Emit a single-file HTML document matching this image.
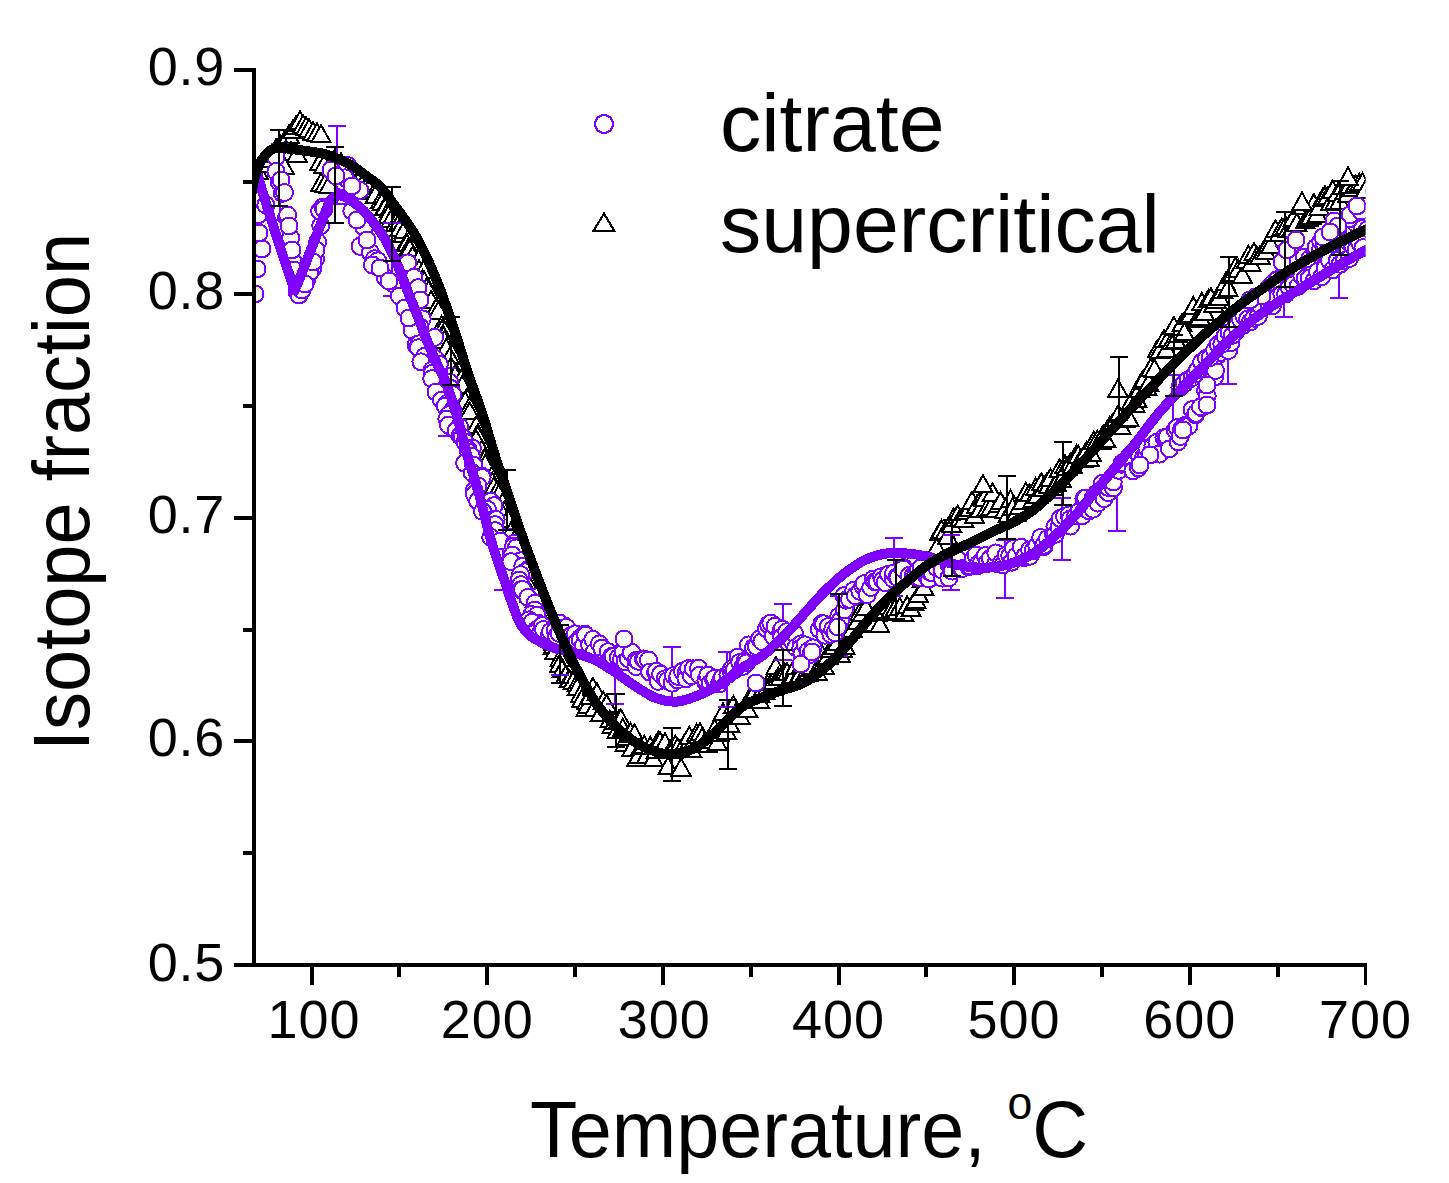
<!DOCTYPE html>
<html><head><meta charset="utf-8"><title>chart</title>
<style>
html,body{margin:0;padding:0;background:#fff;}
body{width:1449px;height:1183px;position:relative;overflow:hidden;font-family:"Liberation Sans",sans-serif;color:#000;}
.t{position:absolute;white-space:nowrap;line-height:1;}
.yl{font-size:54px;width:100px;text-align:right;left:125px;letter-spacing:0.7px;}
.xl{font-size:54px;width:140px;text-align:center;top:992px;letter-spacing:1px;}
</style></head><body>
<svg width="1449" height="1183" viewBox="0 0 1449 1183" style="position:absolute;left:0;top:0">
<defs><clipPath id="cp"><rect x="254" y="60" width="1111.6" height="905"/></clipPath></defs>
<g clip-path="url(#cp)" shape-rendering="crispEdges">
<g stroke="#000" stroke-width="2" fill="#fff" stroke-linejoin="miter"><path d="M258.0,161.5l9.5,17h-19z"/><path d="M262.0,154.5l9.5,17h-19z"/><path d="M268.0,149.5l9.5,17h-19z"/><path d="M272.0,144.5l9.5,17h-19z"/><path d="M276.0,139.5l9.5,17h-19z"/><path d="M280.0,135.5l9.5,17h-19z"/><path d="M285.0,130.5l9.5,17h-19z"/><path d="M289.0,125.5l9.5,17h-19z"/><path d="M293.0,120.5l9.5,17h-19z"/><path d="M296.0,116.5l9.5,17h-19z"/><path d="M299.0,113.5l9.5,17h-19z"/><path d="M300.0,111.5l9.5,17h-19z"/><path d="M303.0,115.5l9.5,17h-19z"/><path d="M306.0,117.5l9.5,17h-19z"/><path d="M309.0,119.5l9.5,17h-19z"/><path d="M313.0,122.5l9.5,17h-19z"/><path d="M317.0,123.5l9.5,17h-19z"/><path d="M321.0,125.0l9.5,17h-19z"/><path d="M286.0,140.5l9.5,17h-19z"/><path d="M291.0,142.5l9.5,17h-19z"/><path d="M297.0,144.5l9.5,17h-19z"/><path d="M284.0,156.5l9.5,17h-19z"/><path d="M320.0,152.5l9.5,17h-19z"/><path d="M324.0,155.5l9.5,17h-19z"/><path d="M321.0,173.5l9.5,17h-19z"/><path d="M325.0,174.5l9.5,17h-19z"/><path d="M329.0,176.0l9.5,17h-19z"/><path d="M335.0,149.5l9.5,17h-19z"/><path d="M341.0,153.5l9.5,17h-19z"/><path d="M348.0,158.5l9.5,17h-19z"/><path d="M355.0,163.5l9.5,17h-19z"/><path d="M354.9,164.0l9.5,17h-19z"/><path d="M355.8,168.9l9.5,17h-19z"/><path d="M357.6,170.1l9.5,17h-19z"/><path d="M361.1,167.6l9.5,17h-19z"/><path d="M362.4,174.7l9.5,17h-19z"/><path d="M362.6,174.2l9.5,17h-19z"/><path d="M367.7,174.5l9.5,17h-19z"/><path d="M367.4,181.7l9.5,17h-19z"/><path d="M369.7,178.0l9.5,17h-19z"/><path d="M375.5,180.8l9.5,17h-19z"/><path d="M376.7,185.2l9.5,17h-19z"/><path d="M375.4,185.5l9.5,17h-19z"/><path d="M380.7,190.5l9.5,17h-19z"/><path d="M381.9,193.0l9.5,17h-19z"/><path d="M384.9,197.3l9.5,17h-19z"/><path d="M385.2,198.3l9.5,17h-19z"/><path d="M388.9,200.4l9.5,17h-19z"/><path d="M388.2,205.8l9.5,17h-19z"/><path d="M391.0,210.0l9.5,17h-19z"/><path d="M395.4,214.1l9.5,17h-19z"/><path d="M398.8,213.7l9.5,17h-19z"/><path d="M399.6,219.4l9.5,17h-19z"/><path d="M403.1,225.3l9.5,17h-19z"/><path d="M404.1,221.2l9.5,17h-19z"/><path d="M406.4,233.3l9.5,17h-19z"/><path d="M407.0,234.1l9.5,17h-19z"/><path d="M407.8,239.8l9.5,17h-19z"/><path d="M409.9,239.8l9.5,17h-19z"/><path d="M412.5,246.8l9.5,17h-19z"/><path d="M418.9,249.5l9.5,17h-19z"/><path d="M418.9,260.1l9.5,17h-19z"/><path d="M423.5,261.0l9.5,17h-19z"/><path d="M422.4,270.0l9.5,17h-19z"/><path d="M424.1,271.6l9.5,17h-19z"/><path d="M426.2,278.6l9.5,17h-19z"/><path d="M428.6,281.1l9.5,17h-19z"/><path d="M431.2,291.1l9.5,17h-19z"/><path d="M436.1,298.9l9.5,17h-19z"/><path d="M438.3,301.6l9.5,17h-19z"/><path d="M441.7,316.1l9.5,17h-19z"/><path d="M442.1,319.9l9.5,17h-19z"/><path d="M444.9,321.7l9.5,17h-19z"/><path d="M443.7,326.7l9.5,17h-19z"/><path d="M444.5,331.1l9.5,17h-19z"/><path d="M446.3,338.7l9.5,17h-19z"/><path d="M452.2,344.7l9.5,17h-19z"/><path d="M449.9,347.3l9.5,17h-19z"/><path d="M451.0,357.2l9.5,17h-19z"/><path d="M456.1,363.5l9.5,17h-19z"/><path d="M455.2,366.2l9.5,17h-19z"/><path d="M461.3,369.4l9.5,17h-19z"/><path d="M463.2,375.9l9.5,17h-19z"/><path d="M462.2,376.0l9.5,17h-19z"/><path d="M467.0,388.7l9.5,17h-19z"/><path d="M465.2,391.7l9.5,17h-19z"/><path d="M469.7,397.2l9.5,17h-19z"/><path d="M469.7,402.4l9.5,17h-19z"/><path d="M476.3,416.2l9.5,17h-19z"/><path d="M477.9,424.1l9.5,17h-19z"/><path d="M477.7,426.4l9.5,17h-19z"/><path d="M476.0,429.9l9.5,17h-19z"/><path d="M481.7,440.8l9.5,17h-19z"/><path d="M485.2,447.7l9.5,17h-19z"/><path d="M484.6,450.2l9.5,17h-19z"/><path d="M485.2,454.8l9.5,17h-19z"/><path d="M491.8,466.8l9.5,17h-19z"/><path d="M492.4,472.6l9.5,17h-19z"/><path d="M493.8,477.5l9.5,17h-19z"/><path d="M496.9,481.7l9.5,17h-19z"/><path d="M498.7,485.1l9.5,17h-19z"/><path d="M502.4,493.4l9.5,17h-19z"/><path d="M504.2,501.7l9.5,17h-19z"/><path d="M500.8,501.6l9.5,17h-19z"/><path d="M507.7,509.9l9.5,17h-19z"/><path d="M511.4,521.9l9.5,17h-19z"/><path d="M510.6,523.1l9.5,17h-19z"/><path d="M514.4,530.8l9.5,17h-19z"/><path d="M516.3,534.8l9.5,17h-19z"/><path d="M518.5,540.4l9.5,17h-19z"/><path d="M516.9,545.1l9.5,17h-19z"/><path d="M519.0,552.6l9.5,17h-19z"/><path d="M524.3,555.9l9.5,17h-19z"/><path d="M524.4,565.7l9.5,17h-19z"/><path d="M528.3,567.8l9.5,17h-19z"/><path d="M528.1,569.5l9.5,17h-19z"/><path d="M528.1,574.3l9.5,17h-19z"/><path d="M530.6,584.7l9.5,17h-19z"/><path d="M535.5,589.8l9.5,17h-19z"/><path d="M537.6,598.7l9.5,17h-19z"/><path d="M539.0,597.9l9.5,17h-19z"/><path d="M542.0,604.2l9.5,17h-19z"/><path d="M544.1,613.0l9.5,17h-19z"/><path d="M545.2,614.5l9.5,17h-19z"/><path d="M547.8,618.8l9.5,17h-19z"/><path d="M548.7,627.5l9.5,17h-19z"/><path d="M553.5,633.0l9.5,17h-19z"/><path d="M553.3,636.7l9.5,17h-19z"/><path d="M553.5,636.1l9.5,17h-19z"/><path d="M555.1,641.5l9.5,17h-19z"/><path d="M560.0,648.8l9.5,17h-19z"/><path d="M559.7,654.6l9.5,17h-19z"/><path d="M562.1,660.3l9.5,17h-19z"/><path d="M565.5,666.2l9.5,17h-19z"/><path d="M569.0,669.9l9.5,17h-19z"/><path d="M569.7,670.3l9.5,17h-19z"/><path d="M572.9,672.2l9.5,17h-19z"/><path d="M577.0,674.0l9.5,17h-19z"/><path d="M577.5,677.9l9.5,17h-19z"/><path d="M580.4,685.1l9.5,17h-19z"/><path d="M583.9,689.7l9.5,17h-19z"/><path d="M581.5,690.2l9.5,17h-19z"/><path d="M586.9,691.8l9.5,17h-19z"/><path d="M586.2,698.6l9.5,17h-19z"/><path d="M587.8,695.8l9.5,17h-19z"/><path d="M590.0,687.2l9.5,17h-19z"/><path d="M592.9,677.9l9.5,17h-19z"/><path d="M594.5,698.8l9.5,17h-19z"/><path d="M596.9,683.4l9.5,17h-19z"/><path d="M600.2,704.3l9.5,17h-19z"/><path d="M603.3,691.6l9.5,17h-19z"/><path d="M606.6,694.9l9.5,17h-19z"/><path d="M609.8,710.4l9.5,17h-19z"/><path d="M612.0,716.0l9.5,17h-19z"/><path d="M615.3,711.5l9.5,17h-19z"/><path d="M617.1,720.8l9.5,17h-19z"/><path d="M619.1,709.9l9.5,17h-19z"/><path d="M620.9,709.5l9.5,17h-19z"/><path d="M622.8,718.9l9.5,17h-19z"/><path d="M624.9,734.0l9.5,17h-19z"/><path d="M627.0,727.9l9.5,17h-19z"/><path d="M628.8,724.8l9.5,17h-19z"/><path d="M630.4,723.1l9.5,17h-19z"/><path d="M631.9,738.9l9.5,17h-19z"/><path d="M634.5,724.6l9.5,17h-19z"/><path d="M636.9,748.7l9.5,17h-19z"/><path d="M638.7,746.0l9.5,17h-19z"/><path d="M641.0,737.4l9.5,17h-19z"/><path d="M644.2,735.7l9.5,17h-19z"/><path d="M646.7,745.7l9.5,17h-19z"/><path d="M650.2,736.9l9.5,17h-19z"/><path d="M653.3,749.3l9.5,17h-19z"/><path d="M656.1,741.4l9.5,17h-19z"/><path d="M658.3,731.5l9.5,17h-19z"/><path d="M660.1,732.2l9.5,17h-19z"/><path d="M663.0,738.1l9.5,17h-19z"/><path d="M664.9,733.2l9.5,17h-19z"/><path d="M668.0,757.2l9.5,17h-19z"/><path d="M670.9,739.9l9.5,17h-19z"/><path d="M672.9,740.5l9.5,17h-19z"/><path d="M675.3,736.0l9.5,17h-19z"/><path d="M677.7,738.3l9.5,17h-19z"/><path d="M681.1,758.5l9.5,17h-19z"/><path d="M683.7,735.8l9.5,17h-19z"/><path d="M687.1,736.6l9.5,17h-19z"/><path d="M689.3,726.6l9.5,17h-19z"/><path d="M691.6,740.0l9.5,17h-19z"/><path d="M694.1,731.0l9.5,17h-19z"/><path d="M696.6,724.2l9.5,17h-19z"/><path d="M698.7,726.0l9.5,17h-19z"/><path d="M700.0,723.2l9.5,17h-19z"/><path d="M702.0,728.3l9.5,17h-19z"/><path d="M704.5,733.5l9.5,17h-19z"/><path d="M707.6,735.2l9.5,17h-19z"/><path d="M710.9,731.4l9.5,17h-19z"/><path d="M714.6,719.7l9.5,17h-19z"/><path d="M717.3,732.9l9.5,17h-19z"/><path d="M719.6,724.2l9.5,17h-19z"/><path d="M722.9,703.4l9.5,17h-19z"/><path d="M726.6,722.0l9.5,17h-19z"/><path d="M729.8,714.8l9.5,17h-19z"/><path d="M733.4,696.0l9.5,17h-19z"/><path d="M736.5,702.6l9.5,17h-19z"/><path d="M740.1,706.9l9.5,17h-19z"/><path d="M743.8,699.0l9.5,17h-19z"/><path d="M747.6,699.7l9.5,17h-19z"/><path d="M751.0,686.3l9.5,17h-19z"/><path d="M753.0,682.7l9.5,17h-19z"/><path d="M755.8,680.7l9.5,17h-19z"/><path d="M759.4,690.6l9.5,17h-19z"/><path d="M760.0,685.1l9.5,17h-19z"/><path d="M763.3,678.7l9.5,17h-19z"/><path d="M765.1,682.2l9.5,17h-19z"/><path d="M768.6,673.0l9.5,17h-19z"/><path d="M771.5,672.5l9.5,17h-19z"/><path d="M773.5,671.7l9.5,17h-19z"/><path d="M775.8,657.2l9.5,17h-19z"/><path d="M778.2,667.7l9.5,17h-19z"/><path d="M780.5,667.8l9.5,17h-19z"/><path d="M784.4,663.4l9.5,17h-19z"/><path d="M787.1,663.2l9.5,17h-19z"/><path d="M790.4,668.4l9.5,17h-19z"/><path d="M793.5,666.1l9.5,17h-19z"/><path d="M795.5,657.2l9.5,17h-19z"/><path d="M797.8,668.0l9.5,17h-19z"/><path d="M800.3,664.8l9.5,17h-19z"/><path d="M802.1,655.2l9.5,17h-19z"/><path d="M804.5,665.3l9.5,17h-19z"/><path d="M807.9,663.5l9.5,17h-19z"/><path d="M810.3,659.2l9.5,17h-19z"/><path d="M813.1,656.7l9.5,17h-19z"/><path d="M815.2,663.2l9.5,17h-19z"/><path d="M817.4,663.4l9.5,17h-19z"/><path d="M821.3,643.9l9.5,17h-19z"/><path d="M824.1,656.7l9.5,17h-19z"/><path d="M828.0,646.7l9.5,17h-19z"/><path d="M830.4,640.3l9.5,17h-19z"/><path d="M834.3,636.9l9.5,17h-19z"/><path d="M837.4,633.0l9.5,17h-19z"/><path d="M840.3,644.9l9.5,17h-19z"/><path d="M842.4,639.9l9.5,17h-19z"/><path d="M845.3,637.4l9.5,17h-19z"/><path d="M848.7,620.8l9.5,17h-19z"/><path d="M852.5,619.9l9.5,17h-19z"/><path d="M854.3,608.5l9.5,17h-19z"/><path d="M857.2,612.4l9.5,17h-19z"/><path d="M859.7,603.3l9.5,17h-19z"/><path d="M862.2,604.3l9.5,17h-19z"/><path d="M865.9,598.2l9.5,17h-19z"/><path d="M869.3,613.1l9.5,17h-19z"/><path d="M871.4,614.5l9.5,17h-19z"/><path d="M874.7,613.9l9.5,17h-19z"/><path d="M877.2,604.3l9.5,17h-19z"/><path d="M879.8,615.4l9.5,17h-19z"/><path d="M882.9,603.0l9.5,17h-19z"/><path d="M885.7,600.7l9.5,17h-19z"/><path d="M887.6,597.2l9.5,17h-19z"/><path d="M891.2,600.2l9.5,17h-19z"/><path d="M895.1,599.1l9.5,17h-19z"/><path d="M897.5,601.9l9.5,17h-19z"/><path d="M899.7,597.7l9.5,17h-19z"/><path d="M903.6,603.7l9.5,17h-19z"/><path d="M907.2,596.3l9.5,17h-19z"/><path d="M911.0,599.2l9.5,17h-19z"/><path d="M914.0,593.1l9.5,17h-19z"/><path d="M915.9,590.8l9.5,17h-19z"/><path d="M918.7,585.4l9.5,17h-19z"/><path d="M921.9,570.3l9.5,17h-19z"/><path d="M923.8,577.9l9.5,17h-19z"/><path d="M925.9,565.4l9.5,17h-19z"/><path d="M928.5,557.2l9.5,17h-19z"/><path d="M931.9,560.8l9.5,17h-19z"/><path d="M934.3,547.7l9.5,17h-19z"/><path d="M936.7,538.4l9.5,17h-19z"/><path d="M939.4,523.2l9.5,17h-19z"/><path d="M941.5,520.5l9.5,17h-19z"/><path d="M945.3,521.8l9.5,17h-19z"/><path d="M947.6,526.8l9.5,17h-19z"/><path d="M951.6,514.9l9.5,17h-19z"/><path d="M953.7,508.3l9.5,17h-19z"/><path d="M955.7,509.2l9.5,17h-19z"/><path d="M957.7,505.5l9.5,17h-19z"/><path d="M960.1,509.3l9.5,17h-19z"/><path d="M963.8,509.9l9.5,17h-19z"/><path d="M966.5,502.0l9.5,17h-19z"/><path d="M969.5,499.2l9.5,17h-19z"/><path d="M972.0,491.7l9.5,17h-19z"/><path d="M974.5,506.2l9.5,17h-19z"/><path d="M976.5,496.3l9.5,17h-19z"/><path d="M979.7,500.4l9.5,17h-19z"/><path d="M982.0,488.1l9.5,17h-19z"/><path d="M984.3,488.6l9.5,17h-19z"/><path d="M987.1,498.6l9.5,17h-19z"/><path d="M990.8,498.1l9.5,17h-19z"/><path d="M992.6,483.5l9.5,17h-19z"/><path d="M996.0,500.0l9.5,17h-19z"/><path d="M998.8,495.3l9.5,17h-19z"/><path d="M1000.6,492.3l9.5,17h-19z"/><path d="M1004.5,501.3l9.5,17h-19z"/><path d="M1008.2,505.0l9.5,17h-19z"/><path d="M1010.5,490.2l9.5,17h-19z"/><path d="M1012.6,498.2l9.5,17h-19z"/><path d="M1015.9,504.2l9.5,17h-19z"/><path d="M1019.3,497.2l9.5,17h-19z"/><path d="M1022.8,491.9l9.5,17h-19z"/><path d="M1025.8,482.8l9.5,17h-19z"/><path d="M1029.3,484.4l9.5,17h-19z"/><path d="M1033.2,489.7l9.5,17h-19z"/><path d="M1035.6,478.3l9.5,17h-19z"/><path d="M1038.0,485.5l9.5,17h-19z"/><path d="M1041.3,473.3l9.5,17h-19z"/><path d="M1043.3,479.1l9.5,17h-19z"/><path d="M1046.4,474.0l9.5,17h-19z"/><path d="M1048.7,475.8l9.5,17h-19z"/><path d="M1050.5,468.9l9.5,17h-19z"/><path d="M1053.3,478.3l9.5,17h-19z"/><path d="M1056.5,473.9l9.5,17h-19z"/><path d="M1059.4,459.5l9.5,17h-19z"/><path d="M1061.7,470.3l9.5,17h-19z"/><path d="M1065.1,455.5l9.5,17h-19z"/><path d="M1066.9,457.6l9.5,17h-19z"/><path d="M1070.2,453.6l9.5,17h-19z"/><path d="M1072.5,456.3l9.5,17h-19z"/><path d="M1076.4,445.2l9.5,17h-19z"/><path d="M1078.3,445.6l9.5,17h-19z"/><path d="M1081.0,449.5l9.5,17h-19z"/><path d="M1083.2,449.6l9.5,17h-19z"/><path d="M1086.6,441.7l9.5,17h-19z"/><path d="M1088.9,448.5l9.5,17h-19z"/><path d="M1091.4,444.1l9.5,17h-19z"/><path d="M1093.7,431.8l9.5,17h-19z"/><path d="M1097.2,430.7l9.5,17h-19z"/><path d="M1101.1,431.7l9.5,17h-19z"/><path d="M1103.3,425.3l9.5,17h-19z"/><path d="M1106.0,430.4l9.5,17h-19z"/><path d="M1109.9,416.5l9.5,17h-19z"/><path d="M1112.5,414.6l9.5,17h-19z"/><path d="M1116.5,408.7l9.5,17h-19z"/><path d="M1118.4,405.0l9.5,17h-19z"/><path d="M1121.1,417.0l9.5,17h-19z"/><path d="M1124.8,409.6l9.5,17h-19z"/><path d="M1128.8,408.5l9.5,17h-19z"/><path d="M1131.3,392.1l9.5,17h-19z"/><path d="M1135.2,395.3l9.5,17h-19z"/><path d="M1137.1,390.2l9.5,17h-19z"/><path d="M1139.7,380.1l9.5,17h-19z"/><path d="M1142.2,371.6l9.5,17h-19z"/><path d="M1144.0,370.2l9.5,17h-19z"/><path d="M1146.6,377.5l9.5,17h-19z"/><path d="M1148.7,373.7l9.5,17h-19z"/><path d="M1150.9,358.5l9.5,17h-19z"/><path d="M1154.5,359.7l9.5,17h-19z"/><path d="M1157.3,340.3l9.5,17h-19z"/><path d="M1160.1,340.7l9.5,17h-19z"/><path d="M1164.0,330.0l9.5,17h-19z"/><path d="M1166.6,340.0l9.5,17h-19z"/><path d="M1168.4,329.3l9.5,17h-19z"/><path d="M1172.0,332.0l9.5,17h-19z"/><path d="M1173.9,316.9l9.5,17h-19z"/><path d="M1175.8,330.9l9.5,17h-19z"/><path d="M1178.2,325.3l9.5,17h-19z"/><path d="M1182.0,314.1l9.5,17h-19z"/><path d="M1184.4,322.9l9.5,17h-19z"/><path d="M1187.5,307.3l9.5,17h-19z"/><path d="M1190.9,305.0l9.5,17h-19z"/><path d="M1193.3,297.1l9.5,17h-19z"/><path d="M1196.8,310.1l9.5,17h-19z"/><path d="M1200.0,307.5l9.5,17h-19z"/><path d="M1201.8,293.0l9.5,17h-19z"/><path d="M1204.7,303.3l9.5,17h-19z"/><path d="M1208.6,289.7l9.5,17h-19z"/><path d="M1210.9,288.4l9.5,17h-19z"/><path d="M1213.8,294.9l9.5,17h-19z"/><path d="M1216.0,290.7l9.5,17h-19z"/><path d="M1219.4,288.1l9.5,17h-19z"/><path d="M1222.9,281.2l9.5,17h-19z"/><path d="M1225.5,273.3l9.5,17h-19z"/><path d="M1228.1,279.0l9.5,17h-19z"/><path d="M1230.0,266.4l9.5,17h-19z"/><path d="M1233.5,263.7l9.5,17h-19z"/><path d="M1235.4,257.8l9.5,17h-19z"/><path d="M1238.4,259.9l9.5,17h-19z"/><path d="M1242.4,265.8l9.5,17h-19z"/><path d="M1246.4,250.7l9.5,17h-19z"/><path d="M1248.4,245.7l9.5,17h-19z"/><path d="M1251.2,254.1l9.5,17h-19z"/><path d="M1254.0,242.9l9.5,17h-19z"/><path d="M1256.8,247.3l9.5,17h-19z"/><path d="M1260.0,246.5l9.5,17h-19z"/><path d="M1263.7,241.3l9.5,17h-19z"/><path d="M1265.8,242.4l9.5,17h-19z"/><path d="M1268.2,235.0l9.5,17h-19z"/><path d="M1270.8,235.5l9.5,17h-19z"/><path d="M1273.1,224.4l9.5,17h-19z"/><path d="M1275.4,220.4l9.5,17h-19z"/><path d="M1279.2,224.3l9.5,17h-19z"/><path d="M1281.7,218.5l9.5,17h-19z"/><path d="M1285.7,216.5l9.5,17h-19z"/><path d="M1288.0,219.8l9.5,17h-19z"/><path d="M1291.2,220.1l9.5,17h-19z"/><path d="M1293.2,209.1l9.5,17h-19z"/><path d="M1296.8,213.7l9.5,17h-19z"/><path d="M1300.6,197.2l9.5,17h-19z"/><path d="M1303.1,197.2l9.5,17h-19z"/><path d="M1305.3,211.4l9.5,17h-19z"/><path d="M1308.4,209.0l9.5,17h-19z"/><path d="M1311.0,206.5l9.5,17h-19z"/><path d="M1313.8,194.2l9.5,17h-19z"/><path d="M1317.3,204.8l9.5,17h-19z"/><path d="M1319.3,197.5l9.5,17h-19z"/><path d="M1322.5,189.1l9.5,17h-19z"/><path d="M1325.1,186.5l9.5,17h-19z"/><path d="M1327.4,187.4l9.5,17h-19z"/><path d="M1330.5,193.1l9.5,17h-19z"/><path d="M1332.7,180.6l9.5,17h-19z"/><path d="M1335.2,191.5l9.5,17h-19z"/><path d="M1337.5,183.9l9.5,17h-19z"/><path d="M1339.7,191.6l9.5,17h-19z"/><path d="M1342.7,177.1l9.5,17h-19z"/><path d="M1344.7,182.2l9.5,17h-19z"/><path d="M1347.7,185.2l9.5,17h-19z"/><path d="M1349.7,175.8l9.5,17h-19z"/><path d="M1353.1,178.6l9.5,17h-19z"/><path d="M1355.5,175.6l9.5,17h-19z"/><path d="M1359.4,173.8l9.5,17h-19z"/><path d="M1362.4,173.1l9.5,17h-19z"/><path d="M1365.2,180.9l9.5,17h-19z"/><path d="M983.0,475.1l9.5,17h-19z"/><path d="M1302.0,192.5l9.5,17h-19z"/><path d="M1348.0,167.5l9.5,17h-19z"/><path d="M1118.0,379.5l9.5,17h-19z"/></g>
<g stroke="#7f00ff" stroke-width="2" fill="none"><path d="M280.0,144.0V220.0M271.0,144.0h18M271.0,220.0h18"/><path d="M337.0,126.3V204.0M328.0,126.3h18M328.0,204.0h18"/><path d="M392.2,223.0V296.0M383.2,223.0h18M383.2,296.0h18"/><path d="M447.0,368.0V435.6M438.0,368.0h18M438.0,435.6h18"/><path d="M503.0,529.0V590.0M494.0,529.0h18M494.0,590.0h18"/><path d="M559.7,617.6V674.6M550.7,617.6h18M550.7,674.6h18"/><path d="M615.0,645.6V703.6M606.0,645.6h18M606.0,703.6h18"/><path d="M671.5,646.6V702.0M662.5,646.6h18M662.5,702.0h18"/><path d="M727.4,651.8V706.7M718.4,651.8h18M718.4,706.7h18"/><path d="M782.8,604.0V660.0M773.8,604.0h18M773.8,660.0h18"/><path d="M838.7,596.0V656.0M829.7,596.0h18M829.7,656.0h18"/><path d="M893.6,538.0V596.0M884.6,538.0h18M884.6,596.0h18"/><path d="M951.0,535.0V590.0M942.0,535.0h18M942.0,590.0h18"/><path d="M1005.0,540.0V598.4M996.0,540.0h18M996.0,598.4h18"/><path d="M1061.5,498.0V560.0M1052.5,498.0h18M1052.5,560.0h18"/><path d="M1116.5,469.0V531.0M1107.5,469.0h18M1107.5,531.0h18"/><path d="M1172.6,374.6V441.0M1163.6,374.6h18M1163.6,441.0h18"/><path d="M1228.4,315.6V384.0M1219.4,315.6h18M1219.4,384.0h18"/><path d="M1284.3,246.3V316.7M1275.3,246.3h18M1275.3,316.7h18"/><path d="M1339.0,228.0V298.0M1330.0,228.0h18M1330.0,298.0h18"/></g>
<g stroke="#7f00ff" stroke-width="2" fill="#fff"><circle cx="255.0" cy="294.0" r="8.5"/><circle cx="257.0" cy="269.0" r="8.5"/><circle cx="262.0" cy="249.0" r="8.5"/><circle cx="259.0" cy="233.0" r="8.5"/><circle cx="258.0" cy="215.0" r="8.5"/><circle cx="261.0" cy="200.0" r="8.5"/><circle cx="265.8" cy="204.8" r="8.5"/><circle cx="279.3" cy="182.0" r="8.5"/><circle cx="282.4" cy="193.4" r="8.5"/><circle cx="286.6" cy="217.3" r="8.5"/><circle cx="276.0" cy="157.0" r="8.5"/><circle cx="276.0" cy="171.5" r="8.5"/><circle cx="281.0" cy="180.0" r="8.5"/><circle cx="284.5" cy="192.5" r="8.5"/><circle cx="287.6" cy="215.0" r="8.5"/><circle cx="290.7" cy="238.0" r="8.5"/><circle cx="292.8" cy="260.8" r="8.5"/><circle cx="297.0" cy="291.8" r="8.5"/><circle cx="299.0" cy="295.0" r="8.5"/><circle cx="296.0" cy="280.0" r="8.5"/><circle cx="289.0" cy="226.0" r="8.5"/><circle cx="292.0" cy="250.0" r="8.5"/><circle cx="294.0" cy="270.0" r="8.5"/><circle cx="302.0" cy="290.0" r="8.5"/><circle cx="307.0" cy="279.0" r="8.5"/><circle cx="312.5" cy="269.0" r="8.5"/><circle cx="315.6" cy="258.7" r="8.5"/><circle cx="317.6" cy="242.0" r="8.5"/><circle cx="320.7" cy="225.6" r="8.5"/><circle cx="319.7" cy="211.0" r="8.5"/><circle cx="322.8" cy="207.0" r="8.5"/><circle cx="316.0" cy="250.0" r="8.5"/><circle cx="310.0" cy="272.0" r="8.5"/><circle cx="324.0" cy="209.0" r="8.5"/><circle cx="305.0" cy="284.0" r="8.5"/><circle cx="313.0" cy="262.0" r="8.5"/><circle cx="331.0" cy="170.0" r="8.5"/><circle cx="341.4" cy="174.0" r="8.5"/><circle cx="347.7" cy="165.5" r="8.5"/><circle cx="343.5" cy="182.0" r="8.5"/><circle cx="360.0" cy="190.4" r="8.5"/><circle cx="344.8" cy="177.8" r="8.5"/><circle cx="355.2" cy="214.0" r="8.5"/><circle cx="336.0" cy="176.0" r="8.5"/><circle cx="352.0" cy="186.0" r="8.5"/><circle cx="351.8" cy="211.0" r="8.5"/><circle cx="364.2" cy="227.7" r="8.5"/><circle cx="360.0" cy="246.3" r="8.5"/><circle cx="370.4" cy="252.5" r="8.5"/><circle cx="374.6" cy="258.7" r="8.5"/><circle cx="377.7" cy="260.8" r="8.5"/><circle cx="372.5" cy="265.0" r="8.5"/><circle cx="385.0" cy="277.3" r="8.5"/><circle cx="393.2" cy="283.6" r="8.5"/><circle cx="399.4" cy="296.0" r="8.5"/><circle cx="357.0" cy="220.0" r="8.5"/><circle cx="367.0" cy="240.0" r="8.5"/><circle cx="380.0" cy="268.0" r="8.5"/><circle cx="389.0" cy="281.0" r="8.5"/><circle cx="407.7" cy="262.9" r="8.5"/><circle cx="413.9" cy="277.3" r="8.5"/><circle cx="418.0" cy="287.7" r="8.5"/><circle cx="420.0" cy="300.0" r="8.5"/><circle cx="422.2" cy="318.8" r="8.5"/><circle cx="420.0" cy="327.0" r="8.5"/><circle cx="424.3" cy="349.8" r="8.5"/><circle cx="434.6" cy="337.4" r="8.5"/><circle cx="412.0" cy="330.0" r="8.5"/><circle cx="416.0" cy="345.0" r="8.5"/><circle cx="405.0" cy="308.0" r="8.5"/><circle cx="409.0" cy="318.0" r="8.5"/><circle cx="418.9" cy="343.8" r="8.5"/><circle cx="418.3" cy="347.7" r="8.5"/><circle cx="424.9" cy="356.2" r="8.5"/><circle cx="435.0" cy="358.5" r="8.5"/><circle cx="420.9" cy="361.8" r="8.5"/><circle cx="439.3" cy="364.4" r="8.5"/><circle cx="431.9" cy="370.4" r="8.5"/><circle cx="432.0" cy="373.4" r="8.5"/><circle cx="431.7" cy="378.6" r="8.5"/><circle cx="449.6" cy="382.3" r="8.5"/><circle cx="450.4" cy="388.3" r="8.5"/><circle cx="436.0" cy="392.0" r="8.5"/><circle cx="452.8" cy="394.5" r="8.5"/><circle cx="441.5" cy="400.1" r="8.5"/><circle cx="447.1" cy="403.5" r="8.5"/><circle cx="445.2" cy="406.0" r="8.5"/><circle cx="452.7" cy="410.4" r="8.5"/><circle cx="448.9" cy="414.6" r="8.5"/><circle cx="446.9" cy="419.1" r="8.5"/><circle cx="448.4" cy="425.0" r="8.5"/><circle cx="459.5" cy="426.7" r="8.5"/><circle cx="456.2" cy="430.6" r="8.5"/><circle cx="460.2" cy="435.8" r="8.5"/><circle cx="462.2" cy="437.1" r="8.5"/><circle cx="465.0" cy="442.3" r="8.5"/><circle cx="472.4" cy="448.0" r="8.5"/><circle cx="468.2" cy="449.6" r="8.5"/><circle cx="468.7" cy="452.4" r="8.5"/><circle cx="471.2" cy="456.0" r="8.5"/><circle cx="464.6" cy="463.2" r="8.5"/><circle cx="473.6" cy="465.3" r="8.5"/><circle cx="472.3" cy="472.9" r="8.5"/><circle cx="481.7" cy="476.0" r="8.5"/><circle cx="482.2" cy="477.5" r="8.5"/><circle cx="478.1" cy="486.0" r="8.5"/><circle cx="474.2" cy="490.6" r="8.5"/><circle cx="474.4" cy="494.1" r="8.5"/><circle cx="477.7" cy="501.1" r="8.5"/><circle cx="490.7" cy="501.4" r="8.5"/><circle cx="493.9" cy="505.7" r="8.5"/><circle cx="487.5" cy="509.4" r="8.5"/><circle cx="482.6" cy="511.4" r="8.5"/><circle cx="493.3" cy="519.6" r="8.5"/><circle cx="496.2" cy="519.5" r="8.5"/><circle cx="494.9" cy="524.6" r="8.5"/><circle cx="495.1" cy="530.6" r="8.5"/><circle cx="490.7" cy="537.4" r="8.5"/><circle cx="500.2" cy="541.0" r="8.5"/><circle cx="514.2" cy="543.4" r="8.5"/><circle cx="513.6" cy="546.4" r="8.5"/><circle cx="516.2" cy="547.9" r="8.5"/><circle cx="512.3" cy="555.2" r="8.5"/><circle cx="520.6" cy="560.8" r="8.5"/><circle cx="510.9" cy="561.7" r="8.5"/><circle cx="522.8" cy="566.2" r="8.5"/><circle cx="528.8" cy="569.1" r="8.5"/><circle cx="525.3" cy="571.8" r="8.5"/><circle cx="520.6" cy="574.6" r="8.5"/><circle cx="519.3" cy="580.1" r="8.5"/><circle cx="520.7" cy="584.6" r="8.5"/><circle cx="521.0" cy="589.7" r="8.5"/><circle cx="522.6" cy="589.6" r="8.5"/><circle cx="537.4" cy="596.8" r="8.5"/><circle cx="527.9" cy="597.4" r="8.5"/><circle cx="535.1" cy="603.2" r="8.5"/><circle cx="534.9" cy="610.0" r="8.5"/><circle cx="531.8" cy="614.5" r="8.5"/><circle cx="537.0" cy="615.2" r="8.5"/><circle cx="528.8" cy="619.9" r="8.5"/><circle cx="537.7" cy="623.1" r="8.5"/><circle cx="530.4" cy="624.6" r="8.5"/><circle cx="537.1" cy="629.5" r="8.5"/><circle cx="532.2" cy="622.2" r="8.5"/><circle cx="536.3" cy="630.0" r="8.5"/><circle cx="535.8" cy="632.6" r="8.5"/><circle cx="540.7" cy="632.9" r="8.5"/><circle cx="542.2" cy="625.5" r="8.5"/><circle cx="543.5" cy="629.6" r="8.5"/><circle cx="549.3" cy="636.1" r="8.5"/><circle cx="550.6" cy="631.5" r="8.5"/><circle cx="555.1" cy="630.5" r="8.5"/><circle cx="556.7" cy="636.5" r="8.5"/><circle cx="559.7" cy="623.2" r="8.5"/><circle cx="559.2" cy="633.4" r="8.5"/><circle cx="564.7" cy="627.6" r="8.5"/><circle cx="566.4" cy="627.4" r="8.5"/><circle cx="571.1" cy="635.5" r="8.5"/><circle cx="575.4" cy="633.8" r="8.5"/><circle cx="577.5" cy="640.9" r="8.5"/><circle cx="580.1" cy="638.1" r="8.5"/><circle cx="580.3" cy="639.9" r="8.5"/><circle cx="584.8" cy="634.1" r="8.5"/><circle cx="583.3" cy="645.9" r="8.5"/><circle cx="585.7" cy="635.1" r="8.5"/><circle cx="589.6" cy="644.9" r="8.5"/><circle cx="592.8" cy="639.4" r="8.5"/><circle cx="594.0" cy="652.1" r="8.5"/><circle cx="599.4" cy="643.9" r="8.5"/><circle cx="602.8" cy="658.5" r="8.5"/><circle cx="601.8" cy="648.2" r="8.5"/><circle cx="606.0" cy="659.1" r="8.5"/><circle cx="608.8" cy="658.1" r="8.5"/><circle cx="608.1" cy="651.7" r="8.5"/><circle cx="611.6" cy="656.4" r="8.5"/><circle cx="613.3" cy="656.5" r="8.5"/><circle cx="618.3" cy="657.7" r="8.5"/><circle cx="621.5" cy="659.2" r="8.5"/><circle cx="623.4" cy="652.0" r="8.5"/><circle cx="625.1" cy="661.9" r="8.5"/><circle cx="628.5" cy="658.9" r="8.5"/><circle cx="631.2" cy="653.0" r="8.5"/><circle cx="631.6" cy="652.4" r="8.5"/><circle cx="636.0" cy="666.5" r="8.5"/><circle cx="636.5" cy="660.1" r="8.5"/><circle cx="638.5" cy="661.3" r="8.5"/><circle cx="643.4" cy="658.9" r="8.5"/><circle cx="644.7" cy="659.5" r="8.5"/><circle cx="648.5" cy="660.0" r="8.5"/><circle cx="649.7" cy="672.1" r="8.5"/><circle cx="655.6" cy="672.6" r="8.5"/><circle cx="656.3" cy="671.4" r="8.5"/><circle cx="658.4" cy="681.4" r="8.5"/><circle cx="660.6" cy="674.1" r="8.5"/><circle cx="665.2" cy="678.7" r="8.5"/><circle cx="667.5" cy="680.6" r="8.5"/><circle cx="672.2" cy="683.2" r="8.5"/><circle cx="673.5" cy="675.6" r="8.5"/><circle cx="677.4" cy="679.9" r="8.5"/><circle cx="677.8" cy="676.3" r="8.5"/><circle cx="682.5" cy="671.4" r="8.5"/><circle cx="686.3" cy="672.5" r="8.5"/><circle cx="685.9" cy="678.8" r="8.5"/><circle cx="688.6" cy="668.6" r="8.5"/><circle cx="691.4" cy="675.7" r="8.5"/><circle cx="693.3" cy="668.8" r="8.5"/><circle cx="698.5" cy="668.2" r="8.5"/><circle cx="699.5" cy="675.1" r="8.5"/><circle cx="705.9" cy="682.5" r="8.5"/><circle cx="705.9" cy="680.3" r="8.5"/><circle cx="707.8" cy="675.2" r="8.5"/><circle cx="710.2" cy="683.1" r="8.5"/><circle cx="713.6" cy="679.5" r="8.5"/><circle cx="714.7" cy="678.3" r="8.5"/><circle cx="719.5" cy="683.8" r="8.5"/><circle cx="721.3" cy="680.0" r="8.5"/><circle cx="722.4" cy="677.5" r="8.5"/><circle cx="727.9" cy="674.5" r="8.5"/><circle cx="730.8" cy="670.7" r="8.5"/><circle cx="731.9" cy="668.5" r="8.5"/><circle cx="734.1" cy="670.1" r="8.5"/><circle cx="738.0" cy="657.0" r="8.5"/><circle cx="739.7" cy="662.5" r="8.5"/><circle cx="743.0" cy="666.3" r="8.5"/><circle cx="744.9" cy="661.3" r="8.5"/><circle cx="746.6" cy="662.8" r="8.5"/><circle cx="748.5" cy="644.9" r="8.5"/><circle cx="753.3" cy="648.9" r="8.5"/><circle cx="753.6" cy="647.5" r="8.5"/><circle cx="756.4" cy="646.5" r="8.5"/><circle cx="759.7" cy="638.6" r="8.5"/><circle cx="761.9" cy="641.5" r="8.5"/><circle cx="766.5" cy="628.6" r="8.5"/><circle cx="768.5" cy="624.8" r="8.5"/><circle cx="770.8" cy="623.0" r="8.5"/><circle cx="773.3" cy="636.2" r="8.5"/><circle cx="775.0" cy="626.3" r="8.5"/><circle cx="780.8" cy="631.7" r="8.5"/><circle cx="782.3" cy="629.0" r="8.5"/><circle cx="781.6" cy="637.1" r="8.5"/><circle cx="786.8" cy="631.6" r="8.5"/><circle cx="787.9" cy="642.1" r="8.5"/><circle cx="791.9" cy="640.7" r="8.5"/><circle cx="794.4" cy="633.4" r="8.5"/><circle cx="795.8" cy="647.5" r="8.5"/><circle cx="801.0" cy="643.9" r="8.5"/><circle cx="800.9" cy="648.1" r="8.5"/><circle cx="801.9" cy="653.7" r="8.5"/><circle cx="805.0" cy="644.8" r="8.5"/><circle cx="808.3" cy="651.0" r="8.5"/><circle cx="811.0" cy="654.4" r="8.5"/><circle cx="813.1" cy="647.8" r="8.5"/><circle cx="819.4" cy="629.3" r="8.5"/><circle cx="822.0" cy="623.4" r="8.5"/><circle cx="824.9" cy="635.2" r="8.5"/><circle cx="823.6" cy="623.7" r="8.5"/><circle cx="828.4" cy="626.5" r="8.5"/><circle cx="830.8" cy="634.3" r="8.5"/><circle cx="832.7" cy="629.3" r="8.5"/><circle cx="835.0" cy="632.7" r="8.5"/><circle cx="838.8" cy="616.3" r="8.5"/><circle cx="840.6" cy="620.1" r="8.5"/><circle cx="844.5" cy="609.7" r="8.5"/><circle cx="844.0" cy="595.7" r="8.5"/><circle cx="845.9" cy="600.2" r="8.5"/><circle cx="849.5" cy="599.3" r="8.5"/><circle cx="853.7" cy="590.3" r="8.5"/><circle cx="855.4" cy="595.6" r="8.5"/><circle cx="859.8" cy="591.4" r="8.5"/><circle cx="862.7" cy="585.9" r="8.5"/><circle cx="864.3" cy="583.6" r="8.5"/><circle cx="867.3" cy="594.7" r="8.5"/><circle cx="870.8" cy="587.5" r="8.5"/><circle cx="873.0" cy="579.2" r="8.5"/><circle cx="874.9" cy="581.7" r="8.5"/><circle cx="877.2" cy="581.8" r="8.5"/><circle cx="881.5" cy="576.7" r="8.5"/><circle cx="882.6" cy="580.3" r="8.5"/><circle cx="885.3" cy="582.6" r="8.5"/><circle cx="888.6" cy="574.1" r="8.5"/><circle cx="893.1" cy="578.8" r="8.5"/><circle cx="893.7" cy="573.2" r="8.5"/><circle cx="896.9" cy="577.0" r="8.5"/><circle cx="897.9" cy="577.6" r="8.5"/><circle cx="903.3" cy="567.5" r="8.5"/><circle cx="903.3" cy="569.0" r="8.5"/><circle cx="909.2" cy="575.4" r="8.5"/><circle cx="913.5" cy="575.1" r="8.5"/><circle cx="915.2" cy="576.5" r="8.5"/><circle cx="918.2" cy="570.0" r="8.5"/><circle cx="920.3" cy="578.0" r="8.5"/><circle cx="921.0" cy="568.0" r="8.5"/><circle cx="927.1" cy="576.9" r="8.5"/><circle cx="929.0" cy="579.0" r="8.5"/><circle cx="929.5" cy="571.7" r="8.5"/><circle cx="932.2" cy="573.0" r="8.5"/><circle cx="937.5" cy="567.2" r="8.5"/><circle cx="936.7" cy="567.6" r="8.5"/><circle cx="942.1" cy="578.1" r="8.5"/><circle cx="942.3" cy="570.2" r="8.5"/><circle cx="948.8" cy="577.9" r="8.5"/><circle cx="949.2" cy="564.8" r="8.5"/><circle cx="951.3" cy="564.3" r="8.5"/><circle cx="952.1" cy="571.1" r="8.5"/><circle cx="957.8" cy="562.1" r="8.5"/><circle cx="957.8" cy="559.8" r="8.5"/><circle cx="961.3" cy="568.7" r="8.5"/><circle cx="962.5" cy="568.5" r="8.5"/><circle cx="968.7" cy="566.8" r="8.5"/><circle cx="969.6" cy="565.9" r="8.5"/><circle cx="973.3" cy="559.1" r="8.5"/><circle cx="976.0" cy="555.0" r="8.5"/><circle cx="977.4" cy="566.0" r="8.5"/><circle cx="977.8" cy="564.5" r="8.5"/><circle cx="981.9" cy="560.8" r="8.5"/><circle cx="981.7" cy="561.8" r="8.5"/><circle cx="985.4" cy="555.6" r="8.5"/><circle cx="987.3" cy="562.2" r="8.5"/><circle cx="990.4" cy="558.3" r="8.5"/><circle cx="995.7" cy="563.4" r="8.5"/><circle cx="995.8" cy="552.9" r="8.5"/><circle cx="1001.0" cy="563.1" r="8.5"/><circle cx="1002.9" cy="564.8" r="8.5"/><circle cx="1006.1" cy="555.0" r="8.5"/><circle cx="1009.7" cy="555.6" r="8.5"/><circle cx="1011.5" cy="562.2" r="8.5"/><circle cx="1013.5" cy="548.5" r="8.5"/><circle cx="1016.2" cy="556.0" r="8.5"/><circle cx="1021.2" cy="547.2" r="8.5"/><circle cx="1024.2" cy="557.6" r="8.5"/><circle cx="1024.8" cy="556.4" r="8.5"/><circle cx="1029.7" cy="556.2" r="8.5"/><circle cx="1029.6" cy="549.9" r="8.5"/><circle cx="1033.2" cy="550.6" r="8.5"/><circle cx="1036.8" cy="546.2" r="8.5"/><circle cx="1040.7" cy="537.5" r="8.5"/><circle cx="1043.9" cy="546.6" r="8.5"/><circle cx="1043.8" cy="545.2" r="8.5"/><circle cx="1047.5" cy="538.6" r="8.5"/><circle cx="1053.5" cy="534.8" r="8.5"/><circle cx="1054.9" cy="526.8" r="8.5"/><circle cx="1055.3" cy="534.4" r="8.5"/><circle cx="1059.1" cy="527.2" r="8.5"/><circle cx="1060.1" cy="518.5" r="8.5"/><circle cx="1064.6" cy="516.5" r="8.5"/><circle cx="1069.1" cy="514.9" r="8.5"/><circle cx="1070.1" cy="519.0" r="8.5"/><circle cx="1070.5" cy="526.1" r="8.5"/><circle cx="1075.7" cy="515.6" r="8.5"/><circle cx="1079.0" cy="511.4" r="8.5"/><circle cx="1082.4" cy="515.7" r="8.5"/><circle cx="1083.9" cy="498.8" r="8.5"/><circle cx="1085.6" cy="498.0" r="8.5"/><circle cx="1088.8" cy="510.8" r="8.5"/><circle cx="1092.9" cy="509.2" r="8.5"/><circle cx="1093.2" cy="498.1" r="8.5"/><circle cx="1096.5" cy="493.5" r="8.5"/><circle cx="1097.9" cy="503.1" r="8.5"/><circle cx="1099.9" cy="490.8" r="8.5"/><circle cx="1104.1" cy="498.6" r="8.5"/><circle cx="1102.4" cy="483.3" r="8.5"/><circle cx="1108.2" cy="492.7" r="8.5"/><circle cx="1108.0" cy="487.3" r="8.5"/><circle cx="1113.5" cy="487.9" r="8.5"/><circle cx="1113.2" cy="482.0" r="8.5"/><circle cx="1118.8" cy="470.3" r="8.5"/><circle cx="1121.9" cy="464.3" r="8.5"/><circle cx="1122.1" cy="463.1" r="8.5"/><circle cx="1124.3" cy="463.3" r="8.5"/><circle cx="1128.3" cy="457.9" r="8.5"/><circle cx="1129.4" cy="456.4" r="8.5"/><circle cx="1132.9" cy="470.8" r="8.5"/><circle cx="1138.9" cy="454.8" r="8.5"/><circle cx="1138.3" cy="467.8" r="8.5"/><circle cx="1143.7" cy="456.6" r="8.5"/><circle cx="1146.7" cy="455.2" r="8.5"/><circle cx="1146.9" cy="448.4" r="8.5"/><circle cx="1150.9" cy="453.0" r="8.5"/><circle cx="1153.4" cy="446.8" r="8.5"/><circle cx="1152.9" cy="445.7" r="8.5"/><circle cx="1156.9" cy="442.2" r="8.5"/><circle cx="1159.4" cy="454.1" r="8.5"/><circle cx="1163.9" cy="437.6" r="8.5"/><circle cx="1166.1" cy="438.0" r="8.5"/><circle cx="1167.1" cy="437.1" r="8.5"/><circle cx="1169.4" cy="448.9" r="8.5"/><circle cx="1175.2" cy="430.0" r="8.5"/><circle cx="1177.3" cy="427.6" r="8.5"/><circle cx="1178.0" cy="441.9" r="8.5"/><circle cx="1181.6" cy="429.1" r="8.5"/><circle cx="1180.3" cy="436.5" r="8.5"/><circle cx="1183.7" cy="426.4" r="8.5"/><circle cx="1187.2" cy="424.6" r="8.5"/><circle cx="1189.0" cy="425.8" r="8.5"/><circle cx="1192.1" cy="409.6" r="8.5"/><circle cx="1195.5" cy="414.8" r="8.5"/><circle cx="1196.0" cy="413.3" r="8.5"/><circle cx="1201.5" cy="407.6" r="8.5"/><circle cx="1200.5" cy="406.9" r="8.5"/><circle cx="1205.5" cy="390.6" r="8.5"/><circle cx="1207.2" cy="396.0" r="8.5"/><circle cx="1211.2" cy="371.6" r="8.5"/><circle cx="1214.5" cy="377.2" r="8.5"/><circle cx="1215.5" cy="370.4" r="8.5"/><circle cx="1217.7" cy="355.4" r="8.5"/><circle cx="1219.9" cy="352.6" r="8.5"/><circle cx="1224.4" cy="341.7" r="8.5"/><circle cx="1228.6" cy="350.5" r="8.5"/><circle cx="1230.5" cy="338.4" r="8.5"/><circle cx="1231.0" cy="342.6" r="8.5"/><circle cx="1236.2" cy="330.9" r="8.5"/><circle cx="1239.0" cy="318.0" r="8.5"/><circle cx="1241.3" cy="316.2" r="8.5"/><circle cx="1243.2" cy="325.3" r="8.5"/><circle cx="1244.3" cy="321.1" r="8.5"/><circle cx="1246.0" cy="316.7" r="8.5"/><circle cx="1250.7" cy="315.1" r="8.5"/><circle cx="1253.9" cy="313.0" r="8.5"/><circle cx="1252.6" cy="306.8" r="8.5"/><circle cx="1255.9" cy="296.8" r="8.5"/><circle cx="1257.7" cy="302.4" r="8.5"/><circle cx="1261.1" cy="298.3" r="8.5"/><circle cx="1264.2" cy="299.4" r="8.5"/><circle cx="1268.6" cy="288.2" r="8.5"/><circle cx="1272.4" cy="284.1" r="8.5"/><circle cx="1276.9" cy="279.6" r="8.5"/><circle cx="1277.2" cy="280.1" r="8.5"/><circle cx="1282.7" cy="286.6" r="8.5"/><circle cx="1286.1" cy="269.2" r="8.5"/><circle cx="1289.1" cy="283.4" r="8.5"/><circle cx="1289.1" cy="276.7" r="8.5"/><circle cx="1291.9" cy="265.2" r="8.5"/><circle cx="1294.2" cy="262.9" r="8.5"/><circle cx="1298.0" cy="275.3" r="8.5"/><circle cx="1300.1" cy="273.8" r="8.5"/><circle cx="1304.5" cy="257.0" r="8.5"/><circle cx="1304.9" cy="266.0" r="8.5"/><circle cx="1308.1" cy="268.5" r="8.5"/><circle cx="1309.8" cy="258.7" r="8.5"/><circle cx="1315.1" cy="252.2" r="8.5"/><circle cx="1316.1" cy="247.2" r="8.5"/><circle cx="1320.1" cy="251.8" r="8.5"/><circle cx="1320.3" cy="250.3" r="8.5"/><circle cx="1320.8" cy="241.5" r="8.5"/><circle cx="1324.1" cy="242.6" r="8.5"/><circle cx="1324.9" cy="245.6" r="8.5"/><circle cx="1330.3" cy="243.4" r="8.5"/><circle cx="1331.6" cy="243.6" r="8.5"/><circle cx="1335.5" cy="239.9" r="8.5"/><circle cx="1337.0" cy="232.2" r="8.5"/><circle cx="1339.9" cy="234.0" r="8.5"/><circle cx="1340.7" cy="232.3" r="8.5"/><circle cx="1344.9" cy="234.6" r="8.5"/><circle cx="1347.7" cy="241.4" r="8.5"/><circle cx="1351.8" cy="225.5" r="8.5"/><circle cx="1353.9" cy="229.7" r="8.5"/><circle cx="1353.7" cy="228.8" r="8.5"/><circle cx="1355.7" cy="223.4" r="8.5"/><circle cx="1361.7" cy="220.4" r="8.5"/><circle cx="1362.4" cy="228.6" r="8.5"/><circle cx="1367.3" cy="229.8" r="8.5"/><circle cx="624.0" cy="639.0" r="8.5"/><circle cx="756.0" cy="683.0" r="8.5"/><circle cx="801.0" cy="664.0" r="8.5"/><circle cx="812.0" cy="652.0" r="8.5"/><circle cx="837.7" cy="627.0" r="8.5"/><circle cx="1207.0" cy="385.0" r="8.5"/><circle cx="1207.0" cy="405.0" r="8.5"/><circle cx="1183.0" cy="430.0" r="8.5"/><circle cx="1150.0" cy="455.0" r="8.5"/><circle cx="1140.0" cy="465.0" r="8.5"/><circle cx="1180.0" cy="387.5" r="8.5"/><circle cx="1184.4" cy="383.4" r="8.5"/><circle cx="1188.0" cy="380.0" r="8.5"/><circle cx="1192.3" cy="377.5" r="8.5"/><circle cx="1195.1" cy="374.1" r="8.5"/><circle cx="1197.6" cy="370.0" r="8.5"/><circle cx="1201.6" cy="362.3" r="8.5"/><circle cx="1206.5" cy="358.2" r="8.5"/><circle cx="1210.1" cy="357.5" r="8.5"/><circle cx="1214.7" cy="350.1" r="8.5"/><circle cx="1218.2" cy="344.3" r="8.5"/><circle cx="1221.8" cy="344.2" r="8.5"/><circle cx="1225.1" cy="336.3" r="8.5"/><circle cx="1229.0" cy="332.7" r="8.5"/><circle cx="1232.3" cy="335.4" r="8.5"/><circle cx="1236.9" cy="327.2" r="8.5"/><circle cx="1240.5" cy="319.5" r="8.5"/><circle cx="1243.8" cy="316.1" r="8.5"/><circle cx="1247.7" cy="319.0" r="8.5"/><circle cx="1250.4" cy="321.8" r="8.5"/><circle cx="1253.7" cy="318.2" r="8.5"/><circle cx="1258.3" cy="316.4" r="8.5"/><circle cx="1261.3" cy="306.7" r="8.5"/><circle cx="1266.1" cy="297.3" r="8.5"/><circle cx="1268.7" cy="303.4" r="8.5"/><circle cx="1272.5" cy="305.9" r="8.5"/><circle cx="1276.9" cy="297.7" r="8.5"/><circle cx="1281.9" cy="294.1" r="8.5"/><circle cx="1285.7" cy="294.0" r="8.5"/><circle cx="1289.2" cy="287.3" r="8.5"/><circle cx="1293.2" cy="284.8" r="8.5"/><circle cx="1298.0" cy="286.4" r="8.5"/><circle cx="1301.8" cy="276.1" r="8.5"/><circle cx="1305.3" cy="278.2" r="8.5"/><circle cx="1309.2" cy="278.3" r="8.5"/><circle cx="1313.9" cy="281.0" r="8.5"/><circle cx="1317.6" cy="271.4" r="8.5"/><circle cx="1321.7" cy="276.8" r="8.5"/><circle cx="1325.0" cy="268.2" r="8.5"/><circle cx="1329.6" cy="260.5" r="8.5"/><circle cx="1332.8" cy="269.8" r="8.5"/><circle cx="1337.4" cy="260.5" r="8.5"/><circle cx="1340.2" cy="264.2" r="8.5"/><circle cx="1344.4" cy="260.6" r="8.5"/><circle cx="1349.4" cy="258.6" r="8.5"/><circle cx="1352.9" cy="246.4" r="8.5"/><circle cx="1356.2" cy="249.7" r="8.5"/><circle cx="1359.9" cy="243.1" r="8.5"/><circle cx="1362.9" cy="247.7" r="8.5"/><circle cx="1282.0" cy="262.0" r="8.5"/><circle cx="1292.0" cy="244.0" r="8.5"/><circle cx="1287.0" cy="250.0" r="8.5"/><circle cx="1323.0" cy="237.0" r="8.5"/><circle cx="1334.0" cy="221.0" r="8.5"/><circle cx="1349.0" cy="219.0" r="8.5"/><circle cx="1350.0" cy="215.0" r="8.5"/><circle cx="1361.0" cy="211.0" r="8.5"/><circle cx="1338.0" cy="226.0" r="8.5"/><circle cx="1330.0" cy="232.0" r="8.5"/><circle cx="1357.0" cy="206.0" r="8.5"/><circle cx="1296.0" cy="240.0" r="8.5"/><circle cx="1262.0" cy="296.0" r="8.5"/><circle cx="1250.0" cy="300.0" r="8.5"/></g>
<path d="M256.0,168.0 C257.0,171.7 259.3,181.0 262.0,190.0 C264.7,199.0 268.5,211.0 272.0,222.0 C275.5,233.0 279.2,244.6 283.0,256.0 C286.8,267.4 292.8,284.8 294.7,290.5 L294.7,290.5 C296.4,286.2 301.3,274.4 305.0,265.0 C308.7,255.6 313.0,244.3 317.0,234.0 C321.0,223.7 326.3,209.0 329.0,203.0 C331.7,197.0 331.5,199.2 333.0,198.0 C334.5,196.8 336.2,195.8 338.0,195.5 C339.8,195.2 341.3,195.3 344.0,196.5 C346.7,197.7 350.7,200.4 354.0,202.8 C357.3,205.2 360.6,207.5 364.0,211.0 C367.4,214.5 371.1,219.3 374.6,224.0 C378.1,228.7 382.1,234.2 385.0,239.0 C387.9,243.8 389.8,248.5 392.0,253.0 C394.2,257.5 396.2,261.7 398.0,266.0 C399.8,270.3 401.1,274.0 403.0,279.0 C404.9,284.0 407.3,290.5 409.5,296.0 C411.7,301.5 413.2,305.0 416.0,312.0 C418.8,319.0 422.4,329.2 426.0,338.0 C429.6,346.8 434.2,357.7 437.5,365.0 C440.8,372.3 442.4,373.8 445.5,381.8 C448.6,389.8 452.4,400.7 456.0,412.8 C459.6,424.9 463.1,440.4 467.0,454.2 C470.9,468.0 475.7,481.8 479.5,495.6 C483.3,509.4 486.9,525.9 490.0,537.0 C493.1,548.1 495.5,554.6 498.0,562.0 C500.5,569.4 502.5,574.6 504.8,581.4 C507.1,588.2 509.6,596.4 512.0,603.0 C514.4,609.6 516.8,616.3 519.0,621.0 C521.2,625.7 523.0,628.1 525.5,631.0 C528.0,633.9 529.3,635.7 534.0,638.5 C538.7,641.3 546.8,645.3 553.5,647.7 C560.2,650.1 567.3,650.8 574.2,652.8 C581.1,654.8 588.1,656.7 595.0,660.0 C601.9,663.3 608.7,668.0 615.6,672.5 C622.5,677.0 629.4,682.7 636.3,687.0 C643.2,691.3 650.1,696.0 657.0,698.4 C663.9,700.8 670.8,702.0 677.7,701.5 C684.6,701.0 691.5,698.0 698.4,695.3 C705.3,692.5 712.0,689.5 719.2,685.0 C726.4,680.5 734.2,673.2 741.4,668.4 C748.5,663.6 755.2,661.2 762.1,656.0 C769.0,650.8 775.9,644.2 782.8,637.3 C789.7,630.4 796.6,622.1 803.5,614.5 C810.4,606.9 817.3,598.7 824.2,591.8 C831.1,584.9 838.0,578.5 844.9,573.1 C851.8,567.8 858.7,563.0 865.6,559.7 C872.5,556.4 879.4,554.5 886.3,553.5 C893.2,552.5 900.1,553.0 907.0,553.5 C913.9,554.0 920.8,555.1 927.7,556.6 C934.6,558.1 941.5,561.1 948.4,562.8 C955.3,564.5 962.0,566.1 969.2,566.9 C976.4,567.7 984.2,568.0 991.4,567.4 C998.5,566.8 1005.2,565.5 1012.1,563.2 C1019.0,561.0 1025.9,558.2 1032.8,553.9 C1039.7,549.6 1046.6,543.5 1053.5,537.3 C1060.4,531.1 1067.3,524.2 1074.2,516.6 C1081.1,509.0 1088.0,500.1 1094.9,491.8 C1101.8,483.5 1108.7,475.3 1115.6,467.0 C1122.5,458.7 1129.4,450.7 1136.3,442.1 C1143.2,433.5 1150.1,423.5 1157.0,415.2 C1163.9,406.9 1170.0,400.6 1177.7,392.5 C1185.5,384.4 1195.8,374.4 1203.5,366.4 C1211.2,358.4 1217.3,351.3 1224.2,344.6 C1231.1,337.9 1238.0,331.7 1244.9,326.0 C1251.8,320.3 1258.7,315.3 1265.6,310.5 C1272.5,305.7 1279.4,301.3 1286.3,297.0 C1293.2,292.7 1300.1,288.7 1307.0,284.6 C1313.9,280.5 1320.8,276.4 1327.7,272.2 C1334.6,268.0 1341.4,263.7 1348.4,259.7 C1355.5,255.7 1366.4,249.9 1370.0,248.0" fill="none" stroke="#7f00ff" stroke-width="10" stroke-linejoin="round"/>
<g stroke="#000" stroke-width="2" fill="none"><path d="M279.3,130.0V206.0M270.3,130.0h18M270.3,206.0h18"/><path d="M335.4,147.0V223.0M326.4,147.0h18M326.4,223.0h18"/><path d="M392.2,187.0V261.0M383.2,187.0h18M383.2,261.0h18"/><path d="M451.0,317.0V385.0M442.0,317.0h18M442.0,385.0h18"/><path d="M507.0,470.0V530.0M498.0,470.0h18M498.0,530.0h18"/><path d="M559.7,625.0V683.0M550.7,625.0h18M550.7,683.0h18"/><path d="M615.6,694.0V747.0M606.6,694.0h18M606.6,747.0h18"/><path d="M671.5,728.0V781.0M662.5,728.0h18M662.5,781.0h18"/><path d="M728.0,700.0V769.0M719.0,700.0h18M719.0,769.0h18"/><path d="M782.8,650.0V706.0M773.8,650.0h18M773.8,706.0h18"/><path d="M838.7,594.0V650.0M829.7,594.0h18M829.7,650.0h18"/><path d="M895.7,560.0V619.0M886.7,560.0h18M886.7,619.0h18"/><path d="M951.6,520.0V576.0M942.6,520.0h18M942.6,576.0h18"/><path d="M1007.0,476.0V539.0M998.0,476.0h18M998.0,539.0h18"/><path d="M1062.8,442.0V505.0M1053.8,442.0h18M1053.8,505.0h18"/><path d="M1118.6,357.0V420.0M1109.6,357.0h18M1109.6,420.0h18"/><path d="M1173.6,335.0V395.5M1164.6,335.0h18M1164.6,395.5h18"/><path d="M1229.4,256.6V327.0M1220.4,256.6h18M1220.4,327.0h18"/><path d="M1285.3,212.0V286.6M1276.3,212.0h18M1276.3,286.6h18"/><path d="M1340.0,181.0V254.6M1331.0,181.0h18M1331.0,254.6h18"/></g>
<path d="M250.0,202.0 C250.5,199.2 251.9,190.0 253.0,185.0 C254.1,180.0 255.3,175.7 256.5,172.0 C257.7,168.3 258.6,165.8 260.0,163.0 C261.4,160.2 263.3,157.6 265.0,155.5 C266.7,153.4 268.3,151.7 270.0,150.5 C271.7,149.3 273.3,148.7 275.0,148.3 C276.7,147.9 278.3,148.0 280.0,148.0 C281.7,148.0 282.2,148.0 285.0,148.3 C287.8,148.6 292.5,149.1 297.0,149.7 C301.5,150.3 307.3,151.1 312.0,151.8 C316.7,152.6 320.6,153.0 325.0,154.2 C329.4,155.4 333.8,156.9 338.6,159.0 C343.4,161.1 349.3,164.1 354.0,167.0 C358.7,169.9 362.7,173.2 367.0,176.5 C371.3,179.8 375.3,181.6 380.0,186.5 C384.7,191.4 389.0,197.7 395.0,206.0 C401.0,214.3 409.1,224.2 416.0,236.5 C422.9,248.8 430.2,264.6 436.5,280.0 C442.8,295.4 448.8,313.7 454.0,329.0 C459.2,344.3 462.8,358.0 467.5,372.0 C472.2,386.0 477.5,399.1 482.0,412.8 C486.5,426.5 490.1,440.4 494.5,454.2 C498.9,468.0 503.8,481.6 508.5,495.6 C513.2,509.7 517.9,524.2 523.0,538.5 C528.1,552.8 533.6,567.4 539.0,581.4 C544.4,595.4 549.7,609.0 555.6,622.8 C561.5,636.6 567.6,651.1 574.2,664.2 C580.8,677.3 588.1,691.1 595.0,701.5 C601.9,711.9 608.7,719.4 615.6,726.3 C622.5,733.2 629.4,738.6 636.3,742.9 C643.2,747.2 650.8,750.3 657.0,752.2 C663.2,754.1 666.7,755.3 673.6,754.3 C680.5,753.3 690.7,750.5 698.4,746.0 C706.1,741.5 712.9,733.9 720.0,727.5 C727.1,721.1 734.0,712.7 741.0,707.7 C748.0,702.7 755.1,700.2 762.1,697.3 C769.1,694.3 775.9,692.4 782.8,690.0 C789.7,687.6 796.6,686.5 803.5,682.9 C810.4,679.3 817.3,674.3 824.2,668.4 C831.1,662.5 838.0,655.3 844.9,647.7 C851.8,640.1 858.7,630.8 865.6,622.8 C872.5,614.8 879.4,606.9 886.3,600.0 C893.2,593.1 900.1,587.3 907.0,581.4 C913.9,575.5 920.8,569.5 927.7,564.8 C934.6,560.1 941.4,556.6 948.4,553.0 C955.4,549.4 962.8,546.5 970.0,543.0 C977.2,539.5 984.4,535.6 991.4,532.2 C998.4,528.9 1005.2,526.5 1012.1,522.9 C1019.0,519.3 1025.9,515.6 1032.8,510.4 C1039.7,505.2 1046.6,498.4 1053.5,491.8 C1060.4,485.2 1067.3,478.4 1074.2,471.1 C1081.1,463.9 1088.0,455.9 1094.9,448.3 C1101.8,440.7 1108.7,433.1 1115.6,425.5 C1122.5,417.9 1129.4,410.2 1136.3,402.8 C1143.2,395.4 1149.2,389.0 1157.0,381.0 C1164.8,373.0 1175.0,362.6 1182.8,355.0 C1190.5,347.4 1196.6,341.5 1203.5,335.3 C1210.4,329.1 1217.3,323.4 1224.2,317.7 C1231.1,312.0 1238.0,306.3 1244.9,301.1 C1251.8,295.9 1258.7,291.4 1265.6,286.6 C1272.5,281.8 1279.4,276.7 1286.3,272.2 C1293.2,267.7 1300.1,263.7 1307.0,259.7 C1313.9,255.7 1320.8,251.9 1327.7,248.3 C1334.6,244.7 1341.4,241.5 1348.4,238.0 C1355.5,234.5 1366.4,229.2 1370.0,227.5" fill="none" stroke="#000" stroke-width="10" stroke-linejoin="round"/>
</g>
<g fill="#000" shape-rendering="crispEdges">
<rect x="252" y="68" width="4" height="899"/>
<rect x="252" y="963" width="1114.5" height="4"/>
<rect x="234" y="68.3" width="18" height="4"/>
<rect x="243" y="180.1" width="9" height="4"/>
<rect x="234" y="292.0" width="18" height="4"/>
<rect x="243" y="403.8" width="9" height="4"/>
<rect x="234" y="515.6" width="18" height="4"/>
<rect x="243" y="627.5" width="9" height="4"/>
<rect x="234" y="739.3" width="18" height="4"/>
<rect x="243" y="851.2" width="9" height="4"/>
<rect x="234" y="963.0" width="18" height="4"/>
<rect x="309.5" y="967" width="4.0" height="17.5"/>
<rect x="397.3" y="967" width="4" height="9.5"/>
<rect x="485.2" y="967" width="4.0" height="17.5"/>
<rect x="573.0" y="967" width="4" height="9.5"/>
<rect x="660.8" y="967" width="4.0" height="17.5"/>
<rect x="748.6" y="967" width="4" height="9.5"/>
<rect x="836.5" y="967" width="4.0" height="17.5"/>
<rect x="924.3" y="967" width="4" height="9.5"/>
<rect x="1012.1" y="967" width="4.0" height="17.5"/>
<rect x="1100.0" y="967" width="4" height="9.5"/>
<rect x="1187.8" y="967" width="4.0" height="17.5"/>
<rect x="1275.6" y="967" width="4" height="9.5"/>
<rect x="1363.5" y="967" width="3.0" height="17.5"/>
</g>
<g shape-rendering="crispEdges"><circle cx="604" cy="124" r="9" fill="#fff" stroke="#7f00ff" stroke-width="2.2"/>
<path d="M604,213.5l10.5,17.5h-21z" fill="#fff" stroke="#000" stroke-width="2.2"/></g>
</svg>
<div class="t yl" style="top:39px">0.9</div>
<div class="t yl" style="top:263px">0.8</div>
<div class="t yl" style="top:487px">0.7</div>
<div class="t yl" style="top:710px">0.6</div>
<div class="t yl" style="top:935px">0.5</div>
<div class="t xl" style="left:244px">100</div>
<div class="t xl" style="left:417.2px">200</div>
<div class="t xl" style="left:594.3px">300</div>
<div class="t xl" style="left:768.5px">400</div>
<div class="t xl" style="left:944.1px">500</div>
<div class="t xl" style="left:1119.8px">600</div>
<div class="t xl" style="left:1295.5px">700</div>
<div class="t" id="xt" style="font-size:79.7px;left:530px;top:1090px;transform-origin:0 0;transform:scaleX(0.971)">Temperature, <span style="font-size:46px;position:relative;top:-38px">o</span>C</div>
<div class="t" id="yt" style="font-size:79.7px;left:0;top:0;transform-origin:0 0;transform:translate(22px,751px) rotate(-90deg) scaleX(0.951)">Isotope fraction</div>
<div class="t" id="l1" style="font-size:81px;left:720px;top:83px;transform-origin:0 0;transform:scaleX(1.018)">citrate</div>
<div class="t" id="l2" style="font-size:81px;left:720px;top:184px;transform-origin:0 0;transform:scaleX(1.018)">supercritical</div>
</body></html>
